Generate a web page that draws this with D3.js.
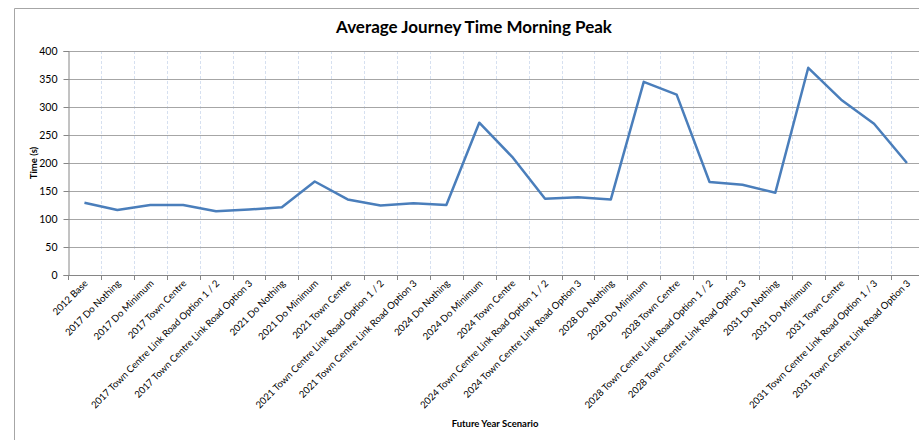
<!DOCTYPE html>
<html>
<head>
  <meta charset="utf-8">
  <script src="https://d3js.org/d3.v7.min.js"></script>
  <style>
    body { margin: 0; background: #fff; }
    text { font-family: Lato, "Open Sans", sans-serif; fill: #000; }
  </style>
</head>
<body>
  <div id="chart"></div>
  <script>
    // scenario names along the x axis
    var scenarios = [
      "2012 Base",
      "2017 Do Nothing",
      "2017 Do Minimum",
      "2017 Town Centre",
      "2017 Town Centre Link Road Option 1 / 2",
      "2017 Town Centre Link Road Option 3",
      "2021 Do Nothing",
      "2021 Do Minimum",
      "2021 Town Centre",
      "2021 Town Centre Link Road Option 1 / 2",
      "2021 Town Centre Link Road Option 3",
      "2024 Do Nothing",
      "2024 Do Minimum",
      "2024 Town Centre",
      "2024 Town Centre Link Road Option 1 / 2",
      "2024 Town Centre Link Road Option 3",
      "2028 Do Nothing",
      "2028 Do Minimum",
      "2028 Town Centre",
      "2028 Town Centre Link Road Option 1 / 2",
      "2028 Town Centre Link Road Option 3",
      "2031 Do Nothing",
      "2031 Do Minimum",
      "2031 Town Centre",
      "2031 Town Centre Link Road Option 1 / 3",
      "2031 Town Centre Link Road Option 3"
    ];

    // average journey time (s)
    var journeyTime = [
      129, 116, 125, 125, 114, 117, 121, 167, 135, 124, 128, 125, 272,
      211, 136, 139, 135, 345, 322, 166, 161, 147, 370, 313, 270, 200
    ];

    var yTicks = [0, 50, 100, 150, 200, 250, 300, 350, 400];

    var W = 919, H = 440;
    var margin = { top: 51, left: 68 },
      plotH = 224,
      plotW = 26 * 32.9;

    var svg = d3.select("#chart")
      .append("svg")
      .attr("width", W)
      .attr("height", H);

    // chart area border (the right/bottom sides are cut off)
    svg.append("path")
      .attr("d", "M14.5," + H + "V8.5H" + W)
      .style("fill", "none")
      .style("stroke", "#a6a6a6")
      .style("stroke-width", 1);

    svg.append("text")
      .attr("x", 474)
      .attr("y", 33)
      .attr("text-anchor", "middle")
      .style("font-size", "17px")
      .style("font-weight", "bold")
      .text("Average Journey Time Morning Peak");

    var g = svg.append("g")
      .attr("transform", "translate(" + margin.left + "," + margin.top + ")");

    var x = d3.scaleBand().domain(scenarios).range([0, plotW]);
    var y = d3.scaleLinear().domain([0, 400]).range([plotH, 0]);

    // vertical dashed gridlines at category boundaries
    g.selectAll(".vgrid")
      .data(scenarios.slice(1))
      .enter().append("line")
      .attr("class", "vgrid")
      .attr("x1", function(d) { return Math.round(x(d)) + 0.5; })
      .attr("x2", function(d) { return Math.round(x(d)) + 0.5; })
      .attr("y1", 0)
      .attr("y2", plotH)
      .style("stroke", "#d6e0f0")
      .style("stroke-dasharray", "3,2");

    // horizontal gridlines
    g.selectAll(".hgrid")
      .data(yTicks.slice(1))
      .enter().append("line")
      .attr("class", "hgrid")
      .attr("x1", 0)
      .attr("x2", plotW)
      .attr("y1", function(d) { return Math.round(y(d)) + 0.5; })
      .attr("y2", function(d) { return Math.round(y(d)) + 0.5; })
      .style("stroke", "#a6a6a6");

    // y axis
    var yAxis = g.append("g")
      .attr("transform", "translate(0.5,0)")
      .call(d3.axisLeft(y).tickValues(yTicks).tickSize(5).tickPadding(6));
    yAxis.select(".domain").style("stroke", "#868686");
    yAxis.selectAll(".tick line").style("stroke", "#868686");
    yAxis.selectAll(".tick text")
      .style("font-size", "10.5px")
      .style("font-family", "Lato, sans-serif");

    // x axis line and boundary ticks
    g.append("line")
      .attr("x1", 0).attr("x2", plotW)
      .attr("y1", plotH + 0.5).attr("y2", plotH + 0.5)
      .style("stroke", "#868686");
    g.selectAll(".xtick")
      .data(scenarios)
      .enter().append("line")
      .attr("class", "xtick")
      .attr("x1", function(d) { return Math.round(x(d)) + 0.5; })
      .attr("x2", function(d) { return Math.round(x(d)) + 0.5; })
      .attr("y1", plotH)
      .attr("y2", plotH + 5)
      .style("stroke", "#868686");

    // rotated category labels
    g.selectAll(".xlab")
      .data(scenarios)
      .enter().append("text")
      .attr("class", "xlab")
      .attr("text-anchor", "end")
      .style("font-size", "9.6px")
      .attr("transform", function(d) {
        var cx = x(d) + x.bandwidth() / 2 + 4;
        return "translate(" + cx + "," + (plotH + 9) + ") rotate(-45)";
      })
      .text(function(d) { return d; });

    // the line
    var line = d3.line()
      .x(function(d, i) { return x(scenarios[i]) + x.bandwidth() / 2; })
      .y(function(d) { return y(d); });

    g.append("path")
      .datum(journeyTime)
      .attr("d", line)
      .style("fill", "none")
      .style("stroke", "#4a7ebb")
      .style("stroke-width", 2.5)
      .style("stroke-linejoin", "round");

    // axis titles
    svg.append("text")
      .attr("transform", "translate(37," + (margin.top + plotH / 2) + ") rotate(-90)")
      .attr("text-anchor", "middle")
      .style("font-size", "9.5px")
      .style("font-weight", "bold")
      .text("Time (s)");

    svg.append("text")
      .attr("x", 495)
      .attr("y", 427)
      .attr("text-anchor", "middle")
      .style("font-size", "9.5px")
      .style("font-weight", "bold")
      .text("Future Year Scenario");
  </script>
</body>
</html>
